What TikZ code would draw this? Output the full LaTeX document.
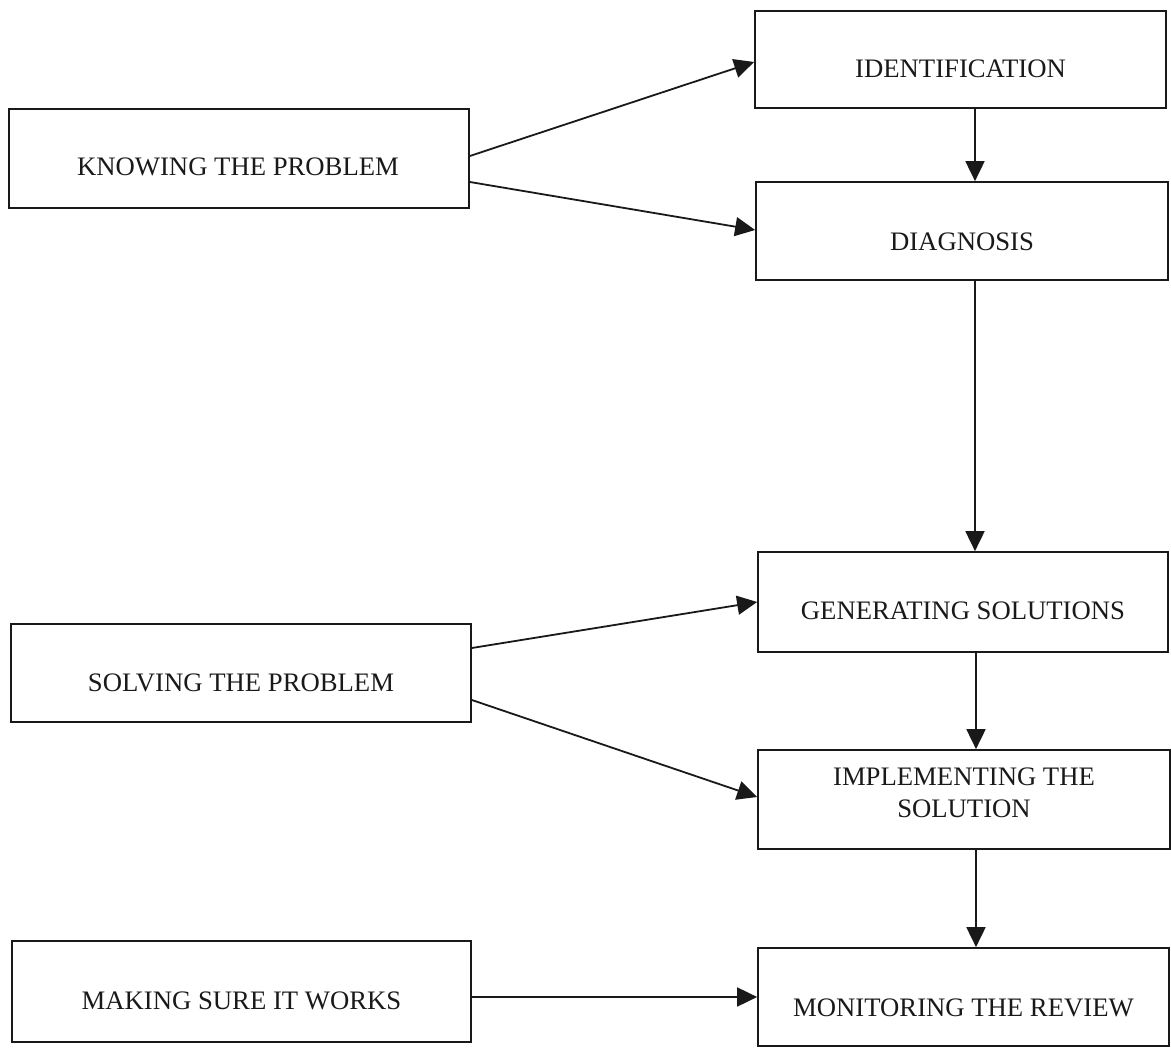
\documentclass[tikz,border=0pt]{standalone}
\usepackage{fontspec}
\setmainfont{Liberation Serif}
\usetikzlibrary{arrows.meta}
\begin{document}
\begin{tikzpicture}[x=1pt,y=-1pt,
  box/.style={draw=black!90, line width=1.7pt, rectangle, inner sep=0pt},
  txt/.style={font=\fontsize{26.7}{31.5}\selectfont, text=black!90, inner sep=0pt, align=center},
  flow/.style={draw=black!90, line width=1.8pt, -{Triangle[length=20pt,width=19pt]}}]
\useasboundingbox (0,0) rectangle (1171,1048);

% right column: the stages
\node[box, minimum width=411pt, minimum height=97pt] (ident) at (960.5,59.5) {};
\node[box, minimum width=412pt, minimum height=98pt] (diag)  at (962,231) {};
\node[box, minimum width=410pt, minimum height=100pt] (gen)  at (963,602) {};
\node[box, minimum width=412pt, minimum height=99pt] (impl)  at (964,799.5) {};
\node[box, minimum width=411pt, minimum height=98pt] (mon)   at (963.5,997) {};

% left column: the phases
\node[box, minimum width=460pt, minimum height=99pt] (know) at (239,158.5) {};
\node[box, minimum width=460pt, minimum height=98pt] (solv) at (241,673) {};
\node[box, minimum width=459pt, minimum height=101pt] (mak) at (241.5,991.5) {};

% labels
\node[txt] (tident) at (960.5,69) {IDENTIFICATION};
\node[txt] (tdiag)  at (962,241.5) {DIAGNOSIS};
\node[txt] (tgen)   at (963,611) {GENERATING SOLUTIONS};
\node[txt] (timpl)  at (964,793) {IMPLEMENTING THE\\SOLUTION};
\node[txt] (tmon)   at (963.5,1008) {MONITORING THE REVIEW};
\node[txt] (tknow)  at (238,167) {KNOWING THE PROBLEM};
\node[txt] (tsolv)  at (241,682.5) {SOLVING THE PROBLEM};
\node[txt] (tmak)   at (241.5,1001) {MAKING SURE IT WORKS};

% x positions of the vertical connectors
\coordinate (va) at (975,0);
\coordinate (vb) at (976,0);

% vertical flow
\draw[flow] (ident.south -| va) -- (diag.north -| va);
\draw[flow] (diag.south -| va) -- (gen.north -| va);
\draw[flow] (gen.south -| vb) -- (impl.north -| vb);
\draw[flow] (impl.south -| vb) -- (mon.north -| vb);

% phase to stage connectors
\draw[flow] ([yshift=2.5pt]know.east) -- ([yshift=-2.5pt]ident.west);
\draw[flow] ([yshift=-23.5pt]know.east) -- ([yshift=1pt]diag.west);
\draw[flow] ([yshift=25pt]solv.east) -- (gen.west);
\draw[flow] ([yshift=-27pt]solv.east) -- ([yshift=2.5pt]impl.west);
\draw[flow] (mak.east |- mon.west) -- (mon.west);
\end{tikzpicture}
\end{document}
